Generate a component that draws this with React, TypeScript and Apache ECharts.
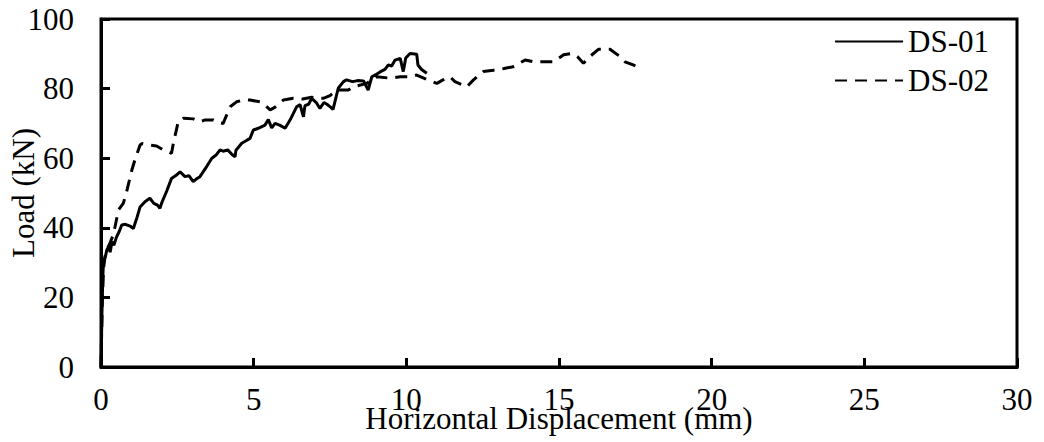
import React, { useEffect, useRef } from "react";
import * as echarts from "echarts";

// Horizontal displacement (mm) and load (kN) for each specimen
const ds01Disp = [
  0, 0.03, 0.06, 0.08, 0.15, 0.19, 0.25, 0.3, 0.36, 0.42, 0.51, 0.6, 0.68, 0.8, 0.95, 1.06,
  1.18, 1.28, 1.44, 1.6, 1.73, 1.85, 1.93, 1.99, 2.15, 2.31, 2.45, 2.59, 2.75, 2.88, 3.02,
  3.12, 3.24, 3.46, 3.63, 3.78, 3.9, 4.0, 4.15, 4.3, 4.39, 4.42, 4.61, 4.75, 4.88, 4.99,
  5.15, 5.37, 5.48, 5.59, 5.7, 5.85, 6.03, 6.2, 6.41, 6.52, 6.63, 6.68, 6.8, 6.9, 7.05,
  7.17, 7.3, 7.4, 7.5, 7.6, 7.77, 7.94, 8.04, 8.24, 8.4, 8.6, 8.75, 8.87, 9.0, 9.14, 9.3,
  9.41, 9.52, 9.63, 9.8, 9.9, 9.98, 10.12, 10.34, 10.38, 10.5, 10.67,
];
const ds01Load = [
  0, 15, 26, 30, 32, 33.6, 34.5, 33, 36, 35, 37.4, 39, 40.8, 41, 40.5, 39.8,
  43, 46, 47.5, 48.5, 47, 46.5, 45.6, 47.2, 50.5, 54.2, 55, 56.1, 54.7, 55, 53.3,
  54, 54.7, 57.6, 60, 61, 62.4, 62, 62.4, 61, 60.4, 62.3, 64.3, 65, 65.7, 68.1,
  68.6, 69.5, 71.1, 68.7, 70, 69.5, 68.6, 71.1, 74.8, 75.4, 71.9, 75.1, 75.5, 77.2, 76,
  74.3, 76, 75.5, 74.8, 74, 80.1, 82, 82.5, 82, 82.3, 82.2, 79.6, 83.4, 84, 84.8, 85.5,
  86.8, 86.5, 88.2, 88.7, 84.9, 88.8, 90.1, 89.9, 86.8, 85.5, 84.4,
];
const ds02Disp = [
  0, 0.04, 0.08, 0.15, 0.29, 0.4, 0.46, 0.57, 0.73, 0.84, 1.01, 1.11, 1.28, 1.34, 1.6,
  1.82, 2.04, 2.31, 2.37, 2.53, 2.7, 3.03, 3.25, 3.41, 3.68, 3.85, 4.0, 4.23, 4.44, 4.7,
  4.88, 5.21, 5.4, 5.54, 5.69, 5.97, 6.3, 6.6, 6.9, 7.28, 7.5, 7.72, 8.1, 8.26, 8.7, 9.03,
  9.47, 9.8, 10.12, 10.34, 10.7, 11.0, 11.2, 11.43, 11.59, 11.98, 12.2, 12.52, 12.85,
  13.2, 13.5, 13.89, 14.16, 14.49, 14.82, 15.15, 15.42, 15.6, 15.8, 16.01, 16.29, 16.67,
  17.0, 17.16, 17.43, 17.65,
];
const ds02Load = [
  0, 18, 28, 33, 35.5, 38, 40.3, 45.1, 47, 50.4, 56.6, 59.5, 63.8, 64.2, 63.8,
  63.5, 62.4, 61.4, 64.3, 70.5, 71.5, 71.3, 70.5, 71, 71, 70.2, 70, 74.8, 76.2, 76.8,
  76.7, 76.2, 75, 73.9, 74.6, 76.7, 77.2, 77, 77.5, 77.2, 78, 79.6, 79.6, 80.5, 81.5, 83.4,
  83, 83.4, 83.4, 83.9, 82.5, 81.5, 82.5, 83.4, 82, 80.5, 82.5, 84.9, 85.3,
  85.8, 86.3, 88.2, 87.7, 87.7, 87.7, 89.7, 90.1, 89.2, 87.3, 89.2, 91.3, 91.3,
  89.2, 87.7, 86.8, 85.8,
];

const seriesNames = ["DS-01", "DS-02"];
const xAxisTitle = "Horizontal Displacement (mm)";
const yAxisTitle = "Load (kN)";

const FONT = "'Liberation Serif', 'Times New Roman', serif";

const zip = (xs: number[], ys: number[]) => xs.map((x, i) => [x, ys[i]]);

export default function App() {
  const ref = useRef<HTMLDivElement>(null);

  useEffect(() => {
    if (!ref.current) return;
    const chart = echarts.init(ref.current, undefined, { renderer: "svg" });
    const axisText = { color: "#000", fontFamily: FONT, fontSize: 31 };
    chart.setOption({
      animation: false,
      backgroundColor: "#fff",
      grid: {
        left: 101,
        right: 27,
        top: 19,
        bottom: 75,
        outerBoundsMode: "none",
        containLabel: false,
        show: true,
        borderColor: "#000",
        borderWidth: 3,
        backgroundColor: "transparent",
      },
      legend: {
        orient: "vertical",
        right: 55,
        top: 26,
        padding: 0,
        itemWidth: 68,
        itemHeight: 20,
        itemGap: 8,
        itemStyle: { opacity: 0 },
        textStyle: { ...axisText, fontSize: 31 },
        data: seriesNames,
      },
      xAxis: {
        type: "value",
        min: 0,
        max: 30,
        interval: 5,
        name: xAxisTitle,
        nameLocation: "middle",
        nameGap: 36,
        nameMoveOverlap: false,
        nameTextStyle: axisText,
        axisLine: { show: true, lineStyle: { color: "#000", width: 3 } },
        axisTick: { show: true, inside: true, length: 9, lineStyle: { color: "#000", width: 3 } },
        axisLabel: { ...axisText, margin: 17 },
        splitLine: { show: false },
      },
      yAxis: {
        type: "value",
        min: 0,
        max: 100,
        interval: 20,
        name: yAxisTitle,
        nameLocation: "middle",
        nameGap: 62,
        nameMoveOverlap: false,
        nameTextStyle: axisText,
        axisLine: { show: true, lineStyle: { color: "#000", width: 3 } },
        axisTick: { show: true, inside: true, length: 9, lineStyle: { color: "#000", width: 3 } },
        axisLabel: { ...axisText, margin: 27 },
        splitLine: { show: false },
      },
      series: [
        {
          name: seriesNames[0],
          type: "line",
          data: zip(ds01Disp, ds01Load),
          showSymbol: false,
          symbol: "none",
          lineStyle: { color: "#000", width: 3, type: "solid" },
          itemStyle: { color: "#000" },
        },
        {
          name: seriesNames[1],
          type: "line",
          data: zip(ds02Disp, ds02Load),
          showSymbol: false,
          symbol: "none",
          lineStyle: { color: "#000", width: 3, type: [12, 8] },
          itemStyle: { color: "#000" },
        },
      ],
    });
    return () => chart.dispose();
  }, []);

  return (
    <div
      ref={ref}
      style={{ position: "fixed", left: 0, top: 0, width: 1044, height: 442, background: "#fff" }}
    />
  );
}
